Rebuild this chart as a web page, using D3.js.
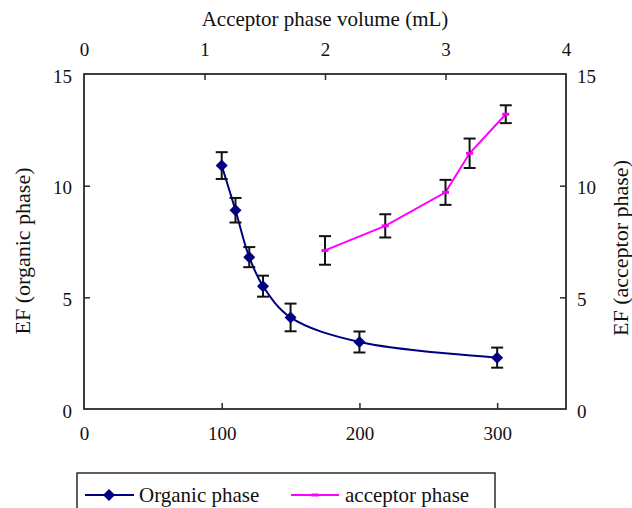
<!DOCTYPE html>
<html><head><meta charset="utf-8">
<script src="https://cdn.jsdelivr.net/npm/d3@7"></script>
<style>
html,body{margin:0;padding:0;background:#fff;}
</style></head>
<body><svg id="c" width="632" height="508"></svg>
<script>
// Organic phase: x = organic volume (bottom axis), y = EF (left axis)
const organicX = [100, 110, 120, 130, 150, 200, 300];
const organicY = [10.9, 8.9, 6.8, 5.5, 4.1, 3.0, 2.3];
const organicErr = [0.6, 0.55, 0.45, 0.47, 0.62, 0.47, 0.45];
// Acceptor phase: x = acceptor volume mL (top axis), y = EF (right axis)
const acceptorX = [2.0, 2.5, 3.0, 3.2, 3.5];
const acceptorY = [7.1, 8.2, 9.7, 11.45, 13.2];
const acceptorErr = [0.64, 0.52, 0.56, 0.66, 0.4];
const bottomTicks = [0, 100, 200, 300];
const topTicks = [0, 1, 2, 3, 4];
const yTicks = [0, 5, 10, 15];
const titleTop = "Acceptor phase volume (mL)";
const titleLeft = "EF (organic phase)";
const titleRight = "EF (acceptor phase)";
const legendLabels = ["Organic phase", "acceptor phase"];

const L = 84, R = 566, T = 74, B = 409;
const FONT = "'Liberation Serif', 'Times New Roman', serif";
const svg = d3.select("#c");
const xB = d3.scaleLinear().domain([0, 350]).range([L, R]);
const xT = d3.scaleLinear().domain([0, 4]).range([L, R]);
const yL = d3.scaleLinear().domain([0, 15]).range([B, T]);
const yR = d3.scaleLinear().domain([0, 15]).range([B, T]);
const FS = 19;
const axisCol = "#2a2a2a";
const txtCol = "#111";

function styleAxis(g){
  g.attr("font-family", null).attr("font-size", null);
  g.select(".domain").remove();
  g.selectAll(".tick line").attr("stroke", axisCol).attr("stroke-width", 1.5);
  g.selectAll(".tick text").style("font-family", FONT).style("font-size", FS+"px").attr("fill", txtCol);
}
// frame
svg.append("rect").attr("x", L).attr("y", T).attr("width", R-L).attr("height", B-T)
  .attr("fill","none").attr("stroke", axisCol).attr("stroke-width", 1.8);

svg.append("g").attr("transform",`translate(0,${B})`)
  .call(d3.axisTop(xB).tickValues(bottomTicks).tickSize(6).tickFormat(d3.format("d")))
  .call(styleAxis)
  .call(g=>g.selectAll(".tick text").attr("y", 24).attr("dy","0.35em"));
svg.append("g").attr("transform",`translate(0,${T})`)
  .call(d3.axisBottom(xT).tickValues(topTicks).tickSize(6).tickFormat(d3.format("d")))
  .call(styleAxis)
  .call(g=>g.selectAll(".tick text").attr("y", -25).attr("dy","0.35em"));
svg.append("g").attr("transform",`translate(${L},0)`)
  .call(d3.axisRight(yL).tickValues(yTicks).tickSize(6).tickFormat(d3.format("d")))
  .call(styleAxis)
  .call(g=>g.selectAll(".tick text").attr("x", -12).attr("y", 2).attr("text-anchor","end"));
svg.append("g").attr("transform",`translate(${R},0)`)
  .call(d3.axisLeft(yR).tickValues(yTicks).tickSize(6).tickFormat(d3.format("d")))
  .call(styleAxis)
  .call(g=>g.selectAll(".tick text").attr("x", 11).attr("y", 2).attr("text-anchor","start"));
// hide tick lines at frame corners
svg.selectAll(".tick").filter(d=>d===0||d===15||d===4||d===350).select("line").attr("stroke","none");

// titles
function txt(sel){ return sel.style("font-family", FONT).attr("fill", txtCol); }
txt(svg.append("text")).attr("x", (L+R)/2).attr("y", 19).attr("dy","0.35em")
  .attr("text-anchor","middle").style("font-size", "21px").text(titleTop);
txt(svg.append("text")).attr("transform",`translate(22,251) rotate(-90)`).attr("dy","0.35em")
  .attr("text-anchor","middle").style("font-size", "22px").text(titleLeft);
txt(svg.append("text")).attr("transform",`translate(620,248) rotate(-90)`).attr("dy","0.35em")
  .attr("text-anchor","middle").style("font-size", "22px").text(titleRight);

const org = organicX.map((x,i)=>({x, y:organicY[i], e:organicErr[i]}));
const acc = acceptorX.map((x,i)=>({x, y:acceptorY[i], e:acceptorErr[i]}));

// organic smooth line
svg.append("path").datum(org)
  .attr("d", d3.line().x(d=>xB(d.x)).y(d=>yL(d.y)).curve(d3.curveCatmullRom.alpha(0.5)))
  .attr("fill","none").attr("stroke","#000080").attr("stroke-width",2);
// acceptor line
svg.append("path").datum(acc)
  .attr("d", d3.line().x(d=>xT(d.x)).y(d=>yR(d.y)))
  .attr("fill","none").attr("stroke","#ff00ff").attr("stroke-width",2);

function errBars(data, xs, ys){
  const g = svg.append("g").attr("stroke","#111").attr("stroke-width",2);
  data.forEach(d=>{
    const x = xs(d.x), y1 = ys(d.y+d.e), y2 = ys(d.y-d.e);
    g.append("line").attr("x1",x).attr("x2",x).attr("y1",y1).attr("y2",y2);
    g.append("line").attr("x1",x-6).attr("x2",x+6).attr("y1",y1).attr("y2",y1);
    g.append("line").attr("x1",x-6).attr("x2",x+6).attr("y1",y2).attr("y2",y2);
  });
}
errBars(org, xB, yL);
errBars(acc, xT, yR);

const diamond = s => `M0,${-s}L${s},0L0,${s}L${-s},0Z`;
svg.append("g").selectAll("path").data(org).join("path")
  .attr("transform", d=>`translate(${xB(d.x)},${yL(d.y)})`)
  .attr("d", diamond(6)).attr("fill","#000080");
svg.append("g").selectAll("rect").data(acc).join("rect")
  .attr("x", d=>xT(d.x)-3.5).attr("y", d=>yR(d.y)-1.5).attr("width",7).attr("height",3)
  .attr("fill","#ff00ff");

// legend
const lg = svg.append("g");
lg.append("rect").attr("x",77).attr("y",473).attr("width",418).attr("height",50)
  .attr("fill","#fff").attr("stroke",axisCol).attr("stroke-width",1.5);
const ly = 495;
lg.append("line").attr("x1",85).attr("x2",134).attr("y1",ly).attr("y2",ly).attr("stroke","#000080").attr("stroke-width",2);
lg.append("path").attr("transform",`translate(109,${ly})`).attr("d",diamond(6)).attr("fill","#000080");
txt(lg.append("text")).attr("x",139).attr("y",ly).attr("dy","0.35em").style("font-size","21px").text(legendLabels[0]);
lg.append("line").attr("x1",291).attr("x2",339).attr("y1",ly).attr("y2",ly).attr("stroke","#ff00ff").attr("stroke-width",2);
lg.append("rect").attr("x",311.5).attr("y",ly-1.5).attr("width",7).attr("height",3).attr("fill","#ff00ff");
txt(lg.append("text")).attr("x",345).attr("y",ly).attr("dy","0.35em").style("font-size","21px").text(legendLabels[1]);
</script></body></html>
